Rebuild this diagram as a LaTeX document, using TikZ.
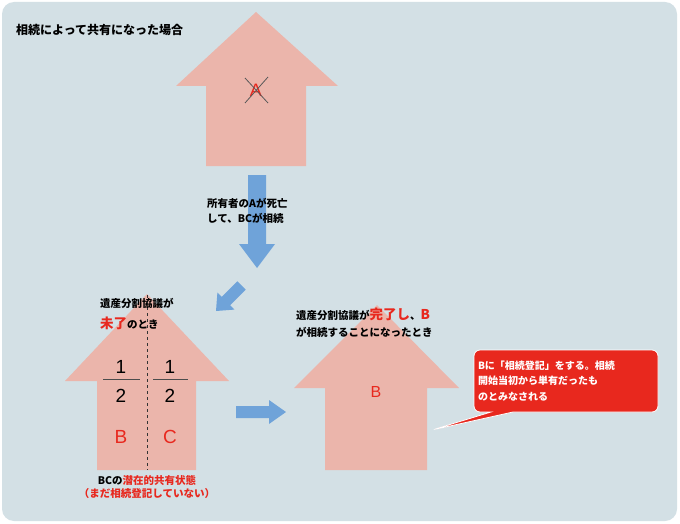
\documentclass[tikz,border=0pt]{standalone}
\usepackage{fontspec}
\setmainfont{Noto Sans CJK JP}
\newfontfamily\latin{Liberation Sans}
\usetikzlibrary{shapes.callouts}
\definecolor{bg}{HTML}{D3E0E5}
\definecolor{house}{HTML}{EBB5AB}
\definecolor{arr}{HTML}{6FA3D9}
\definecolor{rd}{HTML}{E8281E}
\begin{document}
\begin{tikzpicture}[x=1pt,y=-1pt,
  txt/.style={font=\fontsize{10.5}{12}\selectfont\bfseries,anchor=west,inner sep=0},
  big/.style={font=\latin\fontsize{19}{20}\selectfont},
  housefill/.style={fill=house,draw=none}]
\useasboundingbox (0,0) rectangle (680,524);
\fill[white] (0,0) rectangle (680,524);
\fill[bg,rounded corners=12pt] (2,2) rectangle (677,521);
\node[txt,font=\fontsize{12}{13}\selectfont\bfseries] (title) at (16,30) {相続によって共有になった場合};
% top house
\fill[housefill] (256,12) -- (338,86) -- (306,86) -- (306,166) -- (206,166) -- (206,86) -- (176,86) -- cycle;
\node[font=\latin\fontsize{18}{18}\selectfont, text=rd] (A) at (256,90) {A};
\draw[gray!70!black,line width=0.8pt] (245,78) -- (268,103) (268,77) -- (245,103);
% down arrow
\fill[arr] (248,175) -- (266,175) -- (266,244) -- (275,244) -- (257,268) -- (239,244) -- (248,244) -- cycle;
\node[txt] (t1) at (207,203) {所有者のAが死亡};
\node[txt] (t2) at (207,218) {して、BCが相続};
% diagonal arrow
\fill[arr] (216,311) -- (234.4,309.6) -- (230.1,305.3) -- (245.7,289.7) -- (237.3,281.3) -- (221.7,296.9) -- (217.4,292.6) -- cycle;
% left house
\fill[housefill] (147,294) -- (229,381) -- (196,381) -- (196,470) -- (97,470) -- (97,381) -- (65,381) -- cycle;
\draw[dashed,black!80,line width=0.5pt] (147,295) -- (147,470);
\node[txt] (l1) at (100,303) {遺産分割協議が};
\node[txt] (l2) at (100,323) {\textcolor{rd}{\fontsize{13.5}{14}\selectfont 未了}のとき};
\node[big] (f1) at (121,367) {1};
\node[big] (f2) at (121,396) {2};
\node[big] (f3) at (170,367) {1};
\node[big] (f4) at (170,396) {2};
\draw[black!70,line width=0.6pt] (103,379) -- (140,379) (153,379) -- (188,379);
\node[big,text=rd] (B1) at (121,437) {B};
\node[big,text=rd] (C1) at (170,437) {C};
\node[font=\fontsize{10.5}{12}\selectfont\bfseries] (b1) at (147,480) {BCの\textcolor{rd}{潜在的共有状態}};
\node[font=\fontsize{10.5}{12}\selectfont\bfseries,text=rd] (b2) at (147,494) {（まだ相続登記していない）};
% right arrow
\fill[arr] (236,406) -- (269,406) -- (269,400) -- (286,412) -- (269,424) -- (269,418) -- (236,418) -- cycle;
% right house
\fill[housefill] (377,305) -- (459,388) -- (427,388) -- (427,470) -- (325,470) -- (325,388) -- (294,388) -- cycle;
\node[txt] (r1) at (296,314) {遺産分割協議が\textcolor{rd}{\fontsize{13.5}{14}\selectfont 完了し}、\textcolor{rd}{\fontsize{13.5}{14}\selectfont B}};
\node[txt] (r2) at (296,332) {が相続することになったとき};
\node[text=rd,font=\latin\fontsize{16}{18}\selectfont] (B2) at (376,392) {B};
% callout
\node[rectangle callout, rounded corners=6pt, fill=rd, draw=white, line width=0.8pt,
  minimum width=184pt, minimum height=62pt, callout absolute pointer={(432,430)}, callout pointer width=22pt,
  text=white, align=left, font=\fontsize{10}{15.5}\selectfont\bfseries, text width=176pt, inner sep=4pt] (call) at (566,381)
  {Bに「相続登記」をする。相続\\開始当初から単有だったも\\のとみなされる};
\end{tikzpicture}
\end{document}
